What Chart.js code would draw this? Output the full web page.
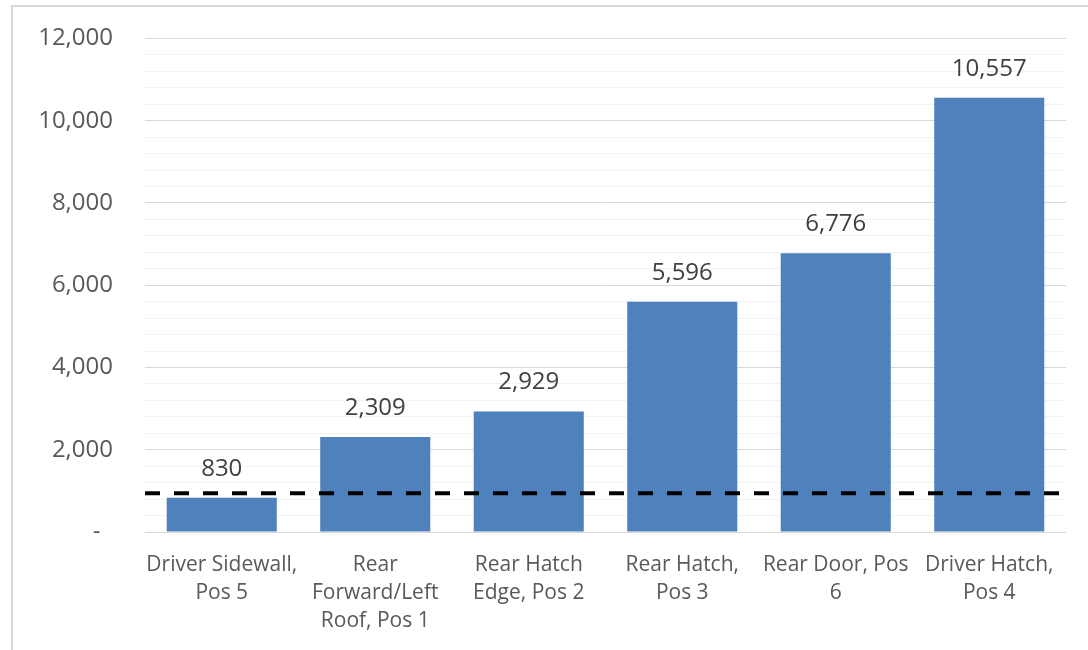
<!DOCTYPE html>
<html>
<head>
<meta charset="utf-8">
<script src="https://cdn.jsdelivr.net/npm/chart.js@4.4.1/dist/chart.umd.min.js"></script>
<style>
  html, body { margin: 0; padding: 0; background: #fff; overflow: hidden; }
  #frame { position: absolute; left: 11px; top: 5px; width: 1200px; height: 800px; border: 2px solid #d9d9d9; box-sizing: border-box; }
  #wrap { position: absolute; left: 0; top: -8px; width: 1088px; height: 658px; }
</style>
</head>
<body>
<div id="frame"></div>
<div id="wrap"><canvas id="chartContainer" width="1088" height="658"></canvas></div>
<script>
const categories = [
  ['Driver Sidewall,', 'Pos 5'],
  ['Rear', 'Forward/Left', 'Roof, Pos 1'],
  ['Rear Hatch', 'Edge, Pos 2'],
  ['Rear Hatch,', 'Pos 3'],
  ['Rear Door, Pos', '6'],
  ['Driver Hatch,', 'Pos 4']
];
const values = [830, 2309, 2929, 5596, 6776, 10557];
const threshold = 940;
const yMax = 12000;
const yStep = 400;
const yLabelStep = 2000;

const fontFamily = '"Open Sans", "Liberation Sans", sans-serif';

// draws the number over each bar
const barLabels = {
  id: 'barLabels',
  afterDatasetsDraw(chart) {
    const c = chart.ctx;
    const idx = chart.data.datasets.findIndex(d => d.type === 'bar');
    const meta = chart.getDatasetMeta(idx);
    c.save();
    c.font = '24px ' + fontFamily;
    c.fillStyle = '#404040';
    c.textAlign = 'center';
    c.textBaseline = 'middle';
    meta.data.forEach((bar, i) => {
      c.fillText(values[i].toLocaleString('en-US'), bar.x, bar.y - 29);
    });
    c.restore();
  }
};

const ctx = document.getElementById('chartContainer').getContext('2d');
new Chart(ctx, {
  type: 'bar',
  data: {
    labels: categories,
    datasets: [
      {
        type: 'bar',
        data: values,
        backgroundColor: '#4f81bd',
        barPercentage: 0.717,
        categoryPercentage: 1,
        grouped: false,
        order: 1
      },
      {
        type: 'line',
        xAxisID: 'x2',
        data: [{ x: 0, y: threshold }, { x: 0.996, y: threshold }],
        borderColor: '#000',
        borderWidth: 4,
        borderDash: [15, 14],
        pointRadius: 0,
        order: 0
      }
    ]
  },
  plugins: [barLabels],
  options: {
    responsive: false,
    animation: false,
    layout: { padding: { top: 20, right: 22, bottom: 0, left: 0 } },
    plugins: { legend: { display: false }, tooltip: { enabled: false } },
    scales: {
      x: {
        grid: { display: false, drawTicks: false },
        border: { display: false },
        ticks: {
          color: '#595959',
          font: { family: fontFamily, size: 21, lineHeight: 1.33 },
          padding: 19,
          maxRotation: 0,
          autoSkip: false
        },
        afterFit(scale) { scale.height = 118; }
      },
      x2: { type: 'linear', display: false, offset: false, min: 0, max: 1 },
      y: {
        min: 0,
        max: yMax,
        border: { display: false },
        grid: {
          drawTicks: false,
          color: (c) => (c.tick && c.tick.value % yLabelStep === 0) ? '#d9d9d9' : '#f2f2f2',
          lineWidth: 1
        },
        ticks: {
          stepSize: yStep,
          autoSkip: false,
          padding: 32,
          color: '#595959',
          font: { family: fontFamily, size: 24 },
          callback: (v) => {
            if (v % yLabelStep !== 0) return '';
            return v === 0 ? '-  ' : v.toLocaleString('en-US');
          }
        },
        afterFit(scale) { scale.width = 145; }
      }
    }
  }
});
</script>
</body>
</html>
